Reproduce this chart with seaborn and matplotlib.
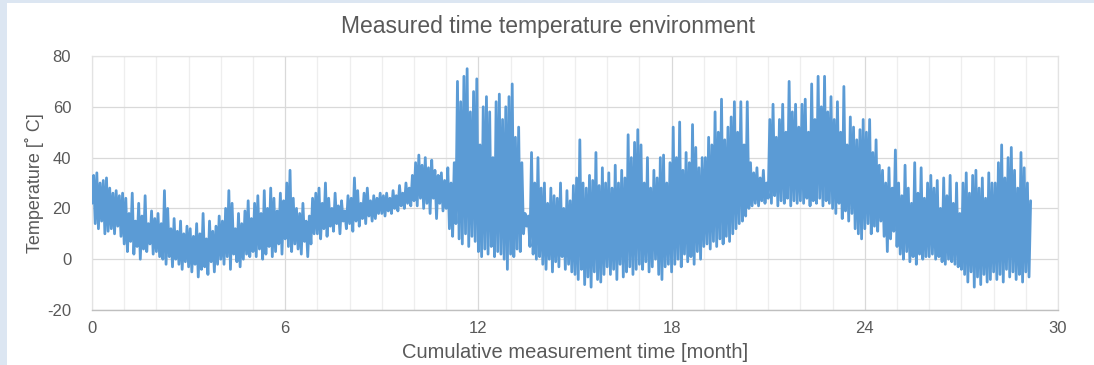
import numpy as np
import pandas as pd
import matplotlib
matplotlib.use("Agg")
import matplotlib.pyplot as plt
import seaborn as sns
from matplotlib.patches import Rectangle

# ---- data (temperature samples, 20 samples per month) ----
title = "Measured time temperature environment"
xlabel = "Cumulative measurement time [month]"
ylabel = "Temperature [\u02da C]"
sample_step_month = 0.05
x_ticks = [0, 6, 12, 18, 24, 30]
y_ticks = [-20, 0, 20, 40, 60, 80]

m00 = [22, 33, 14, 34, 12, 30, 15, 31, 10, 32, 11, 28, 12, 26, 10, 27, 13, 25, 9, 26]
m01 = [6, 24, 3, 18, 7, 26, 2, 15, 5, 22, 0, 17, 4, 25, 3, 14, 6, 19, 2, 16]
m02 = [3, 18, 1, 14, 0, 27, -2, 20, 1, 12, -3, 16, 0, 11, -2, 15, -4, 10, -1, 13]
m03 = [-3, 12, -5, 9, -2, 14, -7, 10, -4, 18, -3, 8, -6, 15, -1, 11, -5, 13, -2, 17]
m04 = [0, 15, -2, 20, 1, 27, -4, 22, 2, 12, -1, 18, -3, 14, 0, 19, 2, 23, 1, 16]
m05 = [3, 22, 1, 25, 4, 18, 0, 27, 2, 20, 5, 28, 1, 24, 3, 19, 6, 26, 2, 23]
m06 = [8, 30, 5, 35, 3, 24, 6, 20, 4, 18, 2, 22, 7, 15, 1, 17, 6, 24, 10, 26]
m07 = [10, 28, 8, 22, 12, 30, 9, 24, 13, 20, 11, 26, 14, 21, 10, 23, 15, 19, 12, 25]
m08 = [14, 24, 11, 32, 15, 27, 13, 22, 16, 26, 14, 28, 17, 23, 15, 25, 16, 24, 18, 26]
m09 = [18, 25, 17, 26, 19, 24, 18, 27, 20, 25, 19, 29, 21, 26, 20, 30, 22, 28, 21, 33]
m10 = [23, 38, 21, 41, 24, 37, 20, 40, 22, 36, 18, 39, 24, 35, 16, 33, 22, 34, 19, 31]
m11 = [20, 36, 12, 30, 9, 38, 14, 70, 8, 62, 6, 72, 10, 75, 5, 58, 9, 66, 7, 71]
m12 = [3, 45, 1, 60, 4, 64, 2, 58, 5, 40, 1, 62, 3, 65, 2, 55, 0, 60, -4, 64]
m13 = [2, 69, 1, 48, 4, 52, 3, 38, 10, 18, 13, 17, 5, 42, 2, 30, 0, 40, 1, 28]
m14 = [-2, 30, -4, 22, 0, 28, -5, 25, -1, 24, -3, 30, 1, 20, -4, 27, -2, 23, -5, 29]
m15 = [-6, 32, -8, 47, -4, 30, -10, 28, -7, 33, -11, 31, -5, 42, -8, 29, -9, 36, -6, 30]
m16 = [-3, 34, -6, 28, -4, 37, -8, 30, -2, 35, -7, 32, -5, 49, -3, 40, -6, 46, -4, 51]
m17 = [-2, 45, -4, 30, -1, 40, -5, 28, -3, 35, 0, 32, -6, 40, -8, 41, -3, 30, -2, 38]
m18 = [-5, 52, -2, 40, 0, 54, -3, 35, 2, 42, -1, 38, 1, 53, -2, 44, 3, 36, 0, 40]
m19 = [5, 40, 6, 48, 4, 45, 7, 58, 5, 50, 8, 63, 6, 47, 9, 52, 7, 56, 10, 62]
m20 = [12, 50, 14, 62, 15, 45, 17, 62, 20, 38, 21, 34, 22, 36, 21, 32, 23, 35, 22, 30]
m21 = [24, 55, 22, 61, 25, 48, 21, 55, 23, 61, 22, 50, 24, 70, 21, 58, 23, 61, 22, 52]
m22 = [23, 61, 22, 63, 24, 50, 21, 69, 23, 55, 22, 72, 24, 60, 21, 72, 23, 58, 22, 64]
m23 = [20, 55, 18, 62, 22, 50, 16, 68, 19, 45, 15, 56, 18, 52, 12, 47, 10, 51, 8, 55]
m24 = [12, 50, 14, 55, 10, 42, 13, 47, 11, 37, 15, 35, 9, 30, 3, 36, 8, 28, 11, 43]
m25 = [5, 30, 2, 25, 0, 37, 3, 28, -1, 22, 1, 38, -2, 26, 2, 36, 0, 24, 1, 30]
m26 = [1, 33, 2, 28, 0, 31, 1, 20, -1, 32, -2, 25, 0, 33, -1, 22, -2, 30, -3, 18]
m27 = [-4, 30, -6, 34, -9, 26, -5, 33, -11, 35, -7, 28, -10, 32, -6, 24, -9, 34, -8, 30]
m28 = [-5, 30, -8, 38, -6, 45, -9, 32, -4, 40, -7, 44, -5, 35, -8, 28, -6, 42, -9, 36]
m29 = [-5, 30, -7, 23]

months = [m00, m01, m02, m03, m04, m05, m06, m07, m08, m09, m10, m11, m12, m13, m14,
          m15, m16, m17, m18, m19, m20, m21, m22, m23, m24, m25, m26, m27, m28, m29]
temps = [v for m in months for v in m]
df = pd.DataFrame({"time": np.arange(len(temps)) * sample_step_month, "temp": temps})

# ---- style ----
sns.set_theme(style="white")
plt.rcParams["font.family"] = ["Liberation Sans", "DejaVu Sans"]
plt.rcParams["axes.unicode_minus"] = False
txt = "#595959"

fig = plt.figure(figsize=(10.94, 3.65), dpi=100, facecolor="#dce6f2")
fig.patches.append(Rectangle((7 / 1094, 0), 1 - 7 / 1094, 1 - 3 / 365,
                             transform=fig.transFigure, facecolor="white",
                             edgecolor="none", zorder=-10))
ax = fig.add_axes([92 / 1094, 1 - 310 / 365, (1058 - 92) / 1094, (310 - 56) / 365])
ax.set_zorder(2)
ax.set_facecolor("white")

sns.lineplot(data=df, x="time", y="temp", ax=ax, color="#5b9bd5", linewidth=2.0,
             estimator=None, sort=False, zorder=3)

ax.set_xlim(0, 30)
ax.set_ylim(-20, 80)
ax.set_xticks(x_ticks)
ax.set_yticks(y_ticks)
ax.set_xticks(np.arange(0, 31, 1), minor=True)
ax.grid(which="major", axis="both", color="#d9d9d9", linewidth=0.9, zorder=0)
ax.grid(which="minor", axis="x", color="#eeeeee", linewidth=0.9, zorder=0)
ax.set_axisbelow(True)
for s in ["top", "right", "left"]:
    ax.spines[s].set_color("#e3e3e3")
    ax.spines[s].set_linewidth(0.9)
ax.spines["bottom"].set_color("#bfbfbf")
ax.spines["bottom"].set_linewidth(1.0)
ax.tick_params(axis="both", which="both", length=0, colors=txt, labelsize=12)
ax.tick_params(axis="y", pad=15)
ax.tick_params(axis="x", pad=8)

ax.set_xlabel(xlabel, color=txt, fontsize=14.5, labelpad=5)
ax.set_ylabel(ylabel, color=txt, fontsize=13, labelpad=2)
fig.text(548 / 1094, 1 - 26 / 365, title, color=txt, fontsize=16.5,
         ha="center", va="center")

fig.savefig("out.png", dpi=100, facecolor=fig.get_facecolor())
